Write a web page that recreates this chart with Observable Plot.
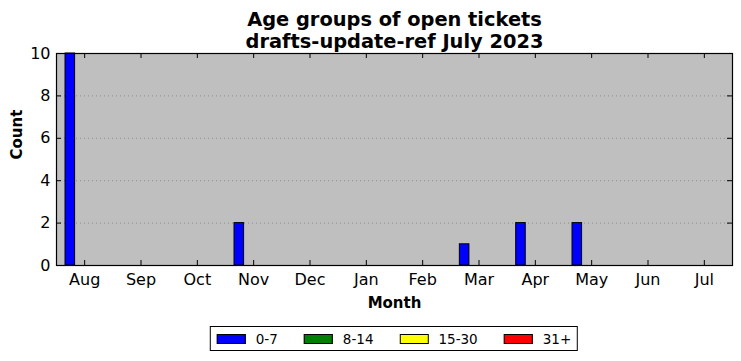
<!DOCTYPE html>
<html>
<head>
<meta charset="utf-8">
<script src="https://cdn.jsdelivr.net/npm/d3@7"></script>
<script src="https://cdn.jsdelivr.net/npm/@observablehq/plot@0.6"></script>
<style>
  html, body { margin: 0; padding: 0; background: #ffffff; }
  #wrap { position: relative; width: 741px; height: 361px; font-family: "DejaVu Sans", sans-serif; }
  #chart { position: absolute; left: 0; top: 0; }
  #legend {
    position: absolute; top: 326px; left: 394px; transform: translateX(-50%);
    display: flex; align-items: center; height: 23px; padding: 0 6px;
    border: 1px solid #000; background: #fff; font-size: 13.5px; white-space: nowrap;
  }
  .item { display: flex; align-items: center; }
  .item + .item { margin-left: 26px; }
  .sw { width: 27px; height: 8px; border: 1px solid #000; margin-right: 10px; }
</style>
</head>
<body>
<div id="wrap">
  <div id="chart"></div>
  <div id="legend"></div>
</div>
<script>
// ---- data ----
const months = ["Aug", "Sep", "Oct", "Nov", "Dec", "Jan", "Feb", "Mar", "Apr", "May", "Jun", "Jul"];
const seriesNames = ["0-7", "8-14", "15-30", "31+"];
const seriesColors = ["#0000ff", "#008000", "#ffff00", "#ff0000"];
const age0to7   = [10, 0, 0, 2, 0, 0, 0, 1, 2, 2, 0, 0];
const age8to14  = [0, 0, 0, 0, 0, 0, 0, 0, 0, 0, 0, 0];
const age15to30 = [0, 0, 0, 0, 0, 0, 0, 0, 0, 0, 0, 0];
const age31plus = [0, 0, 0, 0, 0, 0, 0, 0, 0, 0, 0, 0];
const yTicks = [0, 2, 4, 6, 8, 10];
const gridLines = [2, 4, 6, 8];
const titleLines = ["Age groups of open tickets", "drafts-update-ref July 2023"];

// ---- build table ----
const allSeries = [age0to7, age8to14, age15to30, age31plus];
const barW = 0.17;
const rows = [];
allSeries.forEach((vals, k) => {
  vals.forEach((v, i) => {
    const x1 = i - 2 * barW + k * barW;
    rows.push({ i, k, series: seriesNames[k], x1, x2: x1 + barW, value: v });
  });
});

const W = 741, H = 361, mT = 53, mB = 96, mL = 56, mR = 9;
const xDom = [-0.5, 11.5], yDom = [0, 10];
const pxX = (xDom[1] - xDom[0]) / (W - mL - mR);
const pxY = (yDom[1] - yDom[0]) / (H - mT - mB);
const tickLen = 5;
const monthIdx = d3.range(months.length);

const chart = Plot.plot({
  width: W, height: H,
  marginTop: mT, marginBottom: mB, marginLeft: mL, marginRight: mR,
  x: { domain: xDom, axis: null },
  y: { domain: yDom, axis: null },
  color: { domain: seriesNames, range: seriesColors },
  style: { background: "transparent", fontFamily: "DejaVu Sans, sans-serif", color: "#000" },
  marks: [
    Plot.frame({ fill: "#bfbfbf" }),
    Plot.ruleY(gridLines, { stroke: "#7f7f7f", strokeWidth: 0.8, strokeDasharray: "1,3" }),
    Plot.rectY(rows, { x1: "x1", x2: "x2", y1: 0, y2: "value", fill: "series", stroke: "#000", strokeWidth: 1 }),
    // inward ticks
    Plot.ruleX(monthIdx, { y1: yDom[0], y2: yDom[0] + tickLen * pxY, stroke: "#000" }),
    Plot.ruleX(monthIdx, { y1: yDom[1], y2: yDom[1] - tickLen * pxY, stroke: "#000" }),
    Plot.ruleY(yTicks, { x1: xDom[0], x2: xDom[0] + tickLen * pxX, stroke: "#000" }),
    Plot.ruleY(yTicks, { x1: xDom[1], x2: xDom[1] - tickLen * pxX, stroke: "#000" }),
    Plot.axisX(monthIdx, { tickFormat: i => months[i], tickSize: 0, tickPadding: 8, fontSize: 16, label: null }),
    Plot.axisY(yTicks, { tickSize: 0, tickPadding: 6, fontSize: 16, label: null }),
    Plot.frame({ stroke: "#000", strokeWidth: 1.2 }),
    Plot.text(["Month"], { frameAnchor: "bottom", lineAnchor: "middle", dy: 38, fontWeight: "bold", fontSize: 15 }),
    Plot.text(["Count"], { frameAnchor: "left", lineAnchor: "middle", dx: -39, rotate: -90, fontWeight: "bold", fontSize: 15 }),
    Plot.text([titleLines[0]], { frameAnchor: "top", lineAnchor: "middle", dy: -34, fontWeight: "bold", fontSize: 19.4 }),
    Plot.text([titleLines[1]], { frameAnchor: "top", lineAnchor: "middle", dy: -12, fontWeight: "bold", fontSize: 19.4 })
  ]
});
document.getElementById("chart").appendChild(chart);

// ---- legend ----
const legend = document.getElementById("legend");
seriesNames.forEach((name, k) => {
  const item = document.createElement("div");
  item.className = "item";
  const sw = document.createElement("div");
  sw.className = "sw";
  sw.style.background = seriesColors[k];
  const lab = document.createElement("span");
  lab.textContent = name;
  item.appendChild(sw);
  item.appendChild(lab);
  legend.appendChild(item);
});
</script>
</body>
</html>
